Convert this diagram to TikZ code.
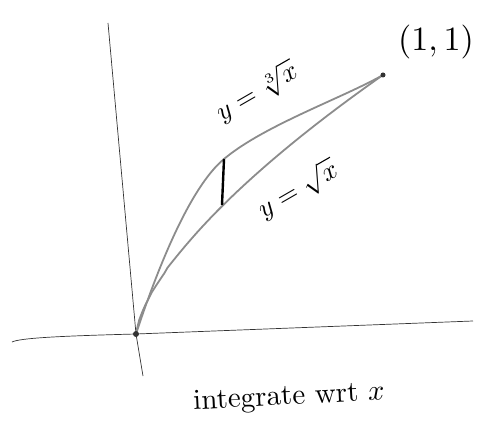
\documentclass[tikz,border=0pt]{standalone}
\begin{document}
\begin{tikzpicture}[x=1pt,y=-1pt,
  axis/.style={black!80,line width=0.7pt},
  curve/.style={black!45,line width=1.8pt,line cap=round,line join=round},
  lbl/.style={inner sep=0pt,transform shape}]
\useasboundingbox (0,0) rectangle (477,441);
\coordinate (O) at (136,334);
\coordinate (P) at (383,75);
\coordinate (A) at (224,159);
\coordinate (B) at (222,205);
% axes
\draw[axis] (12,342) .. controls (20,338) and (60,336) .. (O) -- (473,321);
\draw[axis] (108,23) -- (O) -- (143,376);
% curves
\draw[curve] (O) .. controls (156,273) and (189,188) .. (A)
  .. controls (264,125.4) and (343,97.8) .. (P);
\draw[curve] (O) -- plot[domain=0.0005:1,samples=80,variable=\t] ({136+247*\t},{334-259*\t^0.67});
\fill[black!80] (O) circle (3);
\fill[black!80] (P) circle (2.5);
% strip
\draw[line width=2.4pt] (A) -- (B);
% labels
\node[lbl,rotate=30,scale=2.7] (cb) at (257,92) {$y=\sqrt[3]{x}$};
\node[lbl,rotate=30,scale=2.7] (sq) at (298,190) {$y=\sqrt{x}$};
\node[lbl,scale=3.4] (pt) at (436,42) {$(1,1)$};
\node[lbl,rotate=3,scale=2.9] (cap) at (289,398) {integrate wrt $x$};
\end{tikzpicture}
\end{document}
